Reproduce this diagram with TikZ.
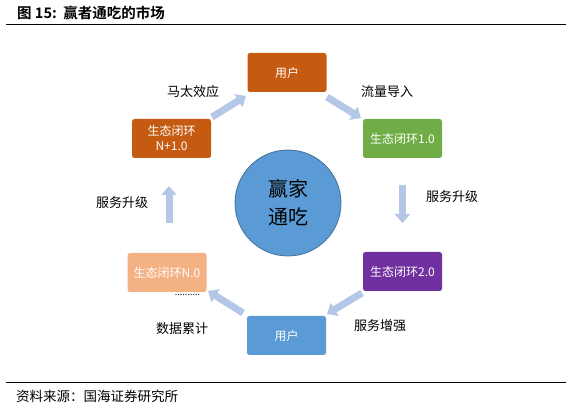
\documentclass[tikz,border=0pt]{standalone}
\usepackage{fontspec}
\setmainfont{Noto Sans CJK SC}
\newfontfamily\cjkbold{Noto Sans CJK SC Bold}
\usetikzlibrary{arrows.meta}

\definecolor{rust}{HTML}{C55A11}
\definecolor{leaf}{HTML}{70AD47}
\definecolor{peach}{HTML}{F4B183}
\definecolor{grape}{HTML}{7030A0}
\definecolor{sky}{HTML}{5B9BD5}
\definecolor{skyedge}{HTML}{41719C}
\definecolor{flow}{HTML}{B4C7E7}

\begin{document}
\begin{tikzpicture}[
  x=1pt, y=-1pt,
  box/.style={
    rectangle,
    rounded corners=2.5pt,
    minimum width=79pt,
    minimum height=39pt,
    inner sep=1pt,
    align=center,
    text=white,
    font=\fontsize{12}{15}\selectfont
  },
  hub/.style={
    circle,
    draw=skyedge,
    fill=sky,
    line width=0.8pt,
    minimum size=106pt,
    align=center,
    font=\fontsize{20}{28}\selectfont
  },
  move/.style={
    -{Triangle[length=9pt,width=15pt]},
    draw=flow,
    line width=7pt
  },
  tag/.style={
    inner sep=1pt,
    font=\fontsize{13}{15}\selectfont
  },
  rule/.style={
    line width=1pt
  }
]

\path[use as bounding box] (0,0) rectangle (574,409);

\node[anchor=west, inner sep=0pt, font=\cjkbold\fontsize{14.5}{16}\selectfont] (title) at (17,13) {图 15:\ \ 赢者通吃的市场};
\coordinate (topl) at (6,25);
\coordinate (topr) at (566,25);
\draw[rule] (topl) -- (topr);

\node[hub] (core) at (288,203) {赢家\\通吃};

\node[box, fill=rust] (usertop) at (287,72.5) {用户};
\node[box, fill=leaf] (ring1) at (402.5,138.5) {生态闭环1.0};
\node[box, fill=grape] (ring2) at (402.5,271.5) {生态闭环2.0};
\node[box, fill=sky] (userbot) at (286.5,335.5) {用户};
\node[box, fill=peach] (ringn) at (167,272.5) {生态闭环N.0};
\node[box, fill=rust] (ringnp) at (171.5,138.5) {生态闭环\\N+1.0};

\node[tag] (matthew) at (193,92) {马太效应};
\node[tag] (inflow) at (387,92) {流量导入};
\node[tag] (upright) at (452,197) {服务升级};
\node[tag] (boost) at (380,326) {服务增强};
\node[tag] (datasum) at (182,329) {数据累计};
\node[tag] (upleft) at (122,203) {服务升级};
\node[inner sep=0pt, font=\fontsize{9}{9}\selectfont] (dots) at (187.5,294.5) {..........};

\coordinate (m0) at (212,117);
\coordinate (m1) at (246,96);
\coordinate (f0) at (327,97);
\coordinate (f1) at (361,118);
\coordinate (r0) at (402.5,185);
\coordinate (r1) at (402.5,223);
\coordinate (b0) at (362,293);
\coordinate (b1) at (327,314);
\coordinate (d0) at (243,313);
\coordinate (d1) at (208,291);
\coordinate (l0) at (169,223);
\coordinate (l1) at (169,186);

\draw[move] (m0) -- (m1);
\draw[move] (f0) -- (f1);
\draw[move] (r0) -- (r1);
\draw[move] (b0) -- (b1);
\draw[move] (d0) -- (d1);
\draw[move] (l0) -- (l1);

\coordinate (botl) at (6,383);
\coordinate (botr) at (566,383);
\draw[rule] (botl) -- (botr);
\node[anchor=west, inner sep=0pt, font=\fontsize{13.5}{15}\selectfont] (source) at (16,396) {资料来源：国海证券研究所};

\end{tikzpicture}
\end{document}
